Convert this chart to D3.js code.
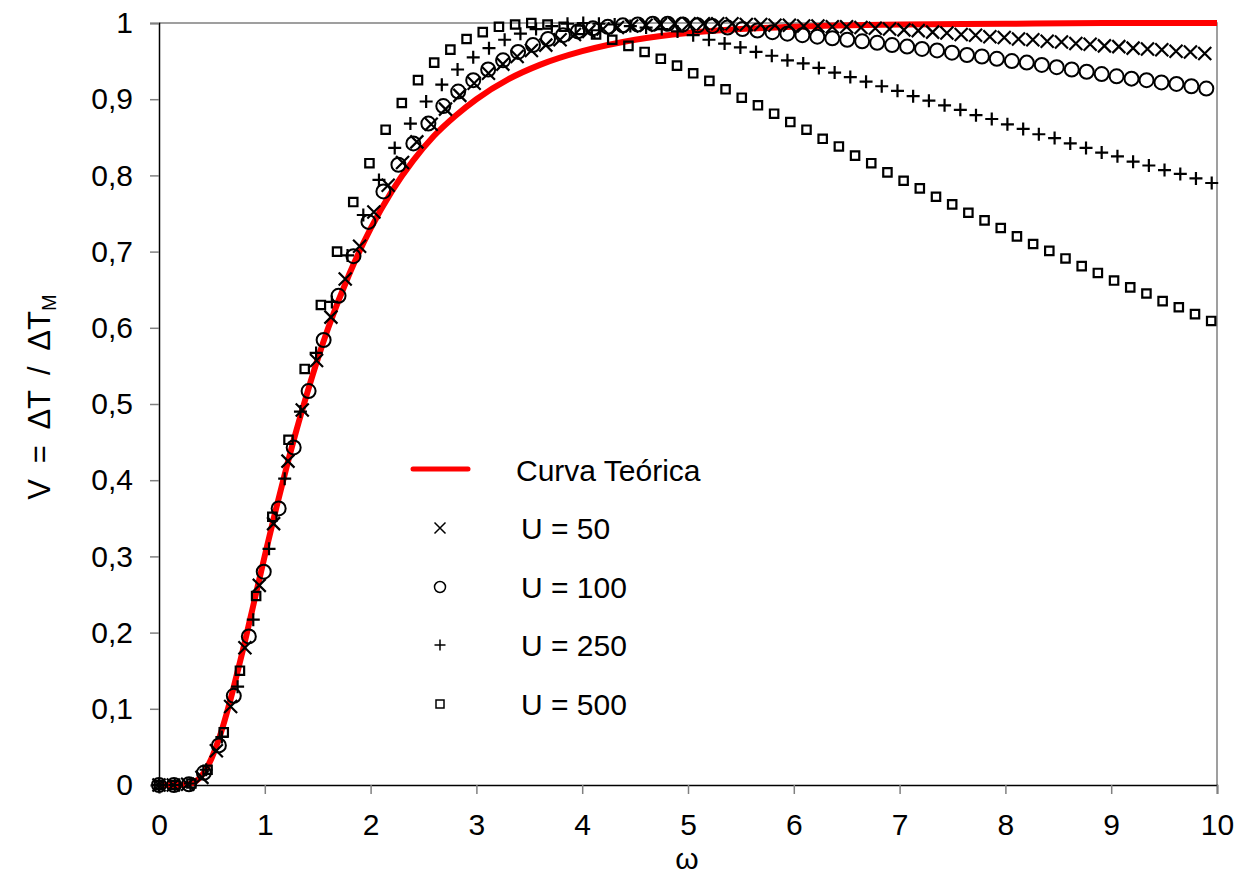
<!DOCTYPE html>
<html>
<head>
<meta charset="utf-8">
<script src="https://cdn.jsdelivr.net/npm/d3@7"></script>
<style>
  html, body { margin: 0; padding: 0; background: #fff; }
  svg { display: block; }
  text { font-family: "Liberation Sans", Arial, Helvetica, sans-serif; fill: #000; }
</style>
</head>
<body>
<svg id="chart" width="1248" height="876"></svg>
<script>
// ---------------- DATA ----------------
const xTicks = [0, 1, 2, 3, 4, 5, 6, 7, 8, 9, 10];
const yTicks = [0, 0.1, 0.2, 0.3, 0.4, 0.5, 0.6, 0.7, 0.8, 0.9, 1];
const yTickLabels = ["0", "0,1", "0,2", "0,3", "0,4", "0,5", "0,6", "0,7", "0,8", "0,9", "1"];

const xTitle = "ω";
const seriesNames = ["Curva Teórica", "U = 50", "U = 100", "U = 250", "U = 500"];

// Theoretical curve
const omegaCurve = [0, 0.2, 0.25, 0.3, 0.35, 0.4, 0.45, 0.5, 0.55, 0.6, 0.65, 0.7, 0.75, 0.8, 0.85, 0.9, 0.95, 1.0,
  1.1, 1.2, 1.3, 1.4, 1.5, 1.6, 1.8, 2.0, 2.2, 2.4, 2.6, 2.8, 3.0, 3.3, 3.6, 4.0, 4.5, 5.0, 5.5, 6.0, 7.0, 8.0, 9.0, 10.0];
const vCurve = [0, 0.00004, 0.0004, 0.0017, 0.0052, 0.0117, 0.022, 0.036, 0.054, 0.075, 0.099, 0.125, 0.153, 0.181, 0.211, 0.241, 0.271, 0.301,
  0.359, 0.414, 0.466, 0.514, 0.559, 0.600, 0.671, 0.730, 0.779, 0.819, 0.852, 0.878, 0.900, 0.926, 0.945, 0.963, 0.978, 0.987, 0.992, 0.995, 0.998, 0.999, 1.0, 1.0];

// U = 50 (x markers)
const omega50 = [0, 0.135, 0.271, 0.406, 0.542, 0.677, 0.812, 0.948, 1.083, 1.219, 1.354, 1.489, 1.625, 1.760, 1.896,
  2.031, 2.166, 2.302, 2.437, 2.573, 2.708, 2.843, 2.979, 3.114, 3.250, 3.385, 3.520, 3.656, 3.791, 3.927, 4.062, 4.197,
  4.333, 4.468, 4.604, 4.739, 4.874, 5.010, 5.145, 5.281, 5.416, 5.551, 5.687, 5.822, 5.958, 6.093, 6.228, 6.364, 6.499,
  6.635, 6.770, 6.905, 7.041, 7.176, 7.312, 7.447, 7.582, 7.718, 7.853, 7.989, 8.124, 8.259, 8.395, 8.530, 8.666, 8.801,
  8.936, 9.072, 9.207, 9.343, 9.478, 9.613, 9.749, 9.884];
const v50 = [0, 0, 0.001, 0.010, 0.045, 0.103, 0.180, 0.262, 0.343, 0.425, 0.492, 0.557, 0.614, 0.664, 0.707,
  0.752, 0.787, 0.817, 0.844, 0.867, 0.887, 0.905, 0.921, 0.934, 0.946, 0.956, 0.964, 0.971, 0.978, 0.985, 0.989, 0.992,
  0.994, 0.996, 0.997, 0.998, 0.999, 0.999, 0.999, 0.999, 0.999, 0.998, 0.998, 0.997, 0.997, 0.996, 0.996, 0.995, 0.995,
  0.994, 0.993, 0.992, 0.991, 0.990, 0.988, 0.987, 0.985, 0.984, 0.982, 0.981, 0.979, 0.978, 0.976, 0.975, 0.973, 0.972,
  0.970, 0.969, 0.967, 0.966, 0.965, 0.963, 0.962, 0.960];

// U = 100 (circles)
const omega100 = [0, 0.141, 0.283, 0.424, 0.566, 0.707, 0.849, 0.990, 1.131, 1.273, 1.414, 1.556, 1.697, 1.838, 1.980,
  2.121, 2.263, 2.404, 2.546, 2.687, 2.828, 2.970, 3.111, 3.252, 3.394, 3.535, 3.677, 3.818, 3.959, 4.101, 4.242, 4.384,
  4.525, 4.667, 4.808, 4.949, 5.091, 5.232, 5.374, 5.515, 5.656, 5.798, 5.939, 6.081, 6.222, 6.364, 6.505, 6.646, 6.788,
  6.929, 7.071, 7.212, 7.354, 7.495, 7.637, 7.778, 7.919, 8.061, 8.202, 8.344, 8.485, 8.627, 8.768, 8.910, 9.051, 9.192,
  9.334, 9.475, 9.617, 9.758, 9.899];
const v100 = [0, 0, 0.001, 0.016, 0.052, 0.117, 0.195, 0.280, 0.363, 0.443, 0.517, 0.584, 0.642, 0.694, 0.739,
  0.779, 0.814, 0.842, 0.868, 0.891, 0.910, 0.925, 0.939, 0.951, 0.962, 0.971, 0.979, 0.984, 0.989, 0.993, 0.995, 0.997,
  0.998, 0.999, 0.999, 0.998, 0.997, 0.996, 0.994, 0.992, 0.990, 0.988, 0.986, 0.984, 0.982, 0.980, 0.978, 0.976, 0.974,
  0.971, 0.969, 0.966, 0.964, 0.961, 0.958, 0.956, 0.953, 0.950, 0.948, 0.945, 0.942, 0.939, 0.936, 0.933, 0.930, 0.927,
  0.925, 0.922, 0.920, 0.917, 0.914];

// U = 250 (plus markers)
const omega250 = [0, 0.149, 0.297, 0.446, 0.594, 0.743, 0.891, 1.040, 1.188, 1.337, 1.485, 1.634, 1.782, 1.931,
  2.079, 2.228, 2.376, 2.525, 2.673, 2.822, 2.970, 3.119, 3.267, 3.416, 3.564, 3.713, 3.861, 4.010, 4.158, 4.307, 4.455,
  4.604, 4.752, 4.901, 5.049, 5.198, 5.346, 5.495, 5.643, 5.792, 5.940, 6.089, 6.237, 6.386, 6.534, 6.683, 6.831, 6.980,
  7.128, 7.277, 7.425, 7.574, 7.722, 7.871, 8.019, 8.168, 8.316, 8.465, 8.613, 8.762, 8.910, 9.059, 9.207, 9.356, 9.504,
  9.653, 9.801, 9.950];
const v250 = [0, 0, 0.002, 0.020, 0.063, 0.129, 0.217, 0.310, 0.402, 0.490, 0.567, 0.634, 0.695, 0.748,
  0.794, 0.836, 0.868, 0.897, 0.919, 0.939, 0.955, 0.967, 0.978, 0.986, 0.992, 0.996, 0.999, 1.000, 0.999, 0.998, 0.996,
  0.994, 0.992, 0.989, 0.984, 0.978, 0.973, 0.968, 0.962, 0.957, 0.951, 0.947, 0.941, 0.935, 0.929, 0.923, 0.917, 0.911,
  0.904, 0.898, 0.892, 0.886, 0.879, 0.874, 0.867, 0.861, 0.854, 0.849, 0.842, 0.836, 0.830, 0.825, 0.818, 0.813, 0.807,
  0.802, 0.796, 0.790];

// U = 500 (square markers)
const omega500 = [0, 0.153, 0.306, 0.459, 0.612, 0.765, 0.918, 1.071, 1.224, 1.377, 1.530, 1.683, 1.836, 1.989,
  2.142, 2.295, 2.448, 2.601, 2.754, 2.907, 3.060, 3.213, 3.366, 3.519, 3.672, 3.825, 3.978, 4.131, 4.284, 4.437, 4.590,
  4.743, 4.896, 5.049, 5.202, 5.355, 5.508, 5.661, 5.814, 5.967, 6.120, 6.273, 6.426, 6.579, 6.732, 6.885, 7.038, 7.191,
  7.344, 7.497, 7.650, 7.803, 7.956, 8.109, 8.262, 8.415, 8.568, 8.721, 8.874, 9.027, 9.180, 9.333, 9.486, 9.639, 9.792,
  9.945];
const v500 = [0, 0, 0.002, 0.020, 0.069, 0.150, 0.248, 0.352, 0.453, 0.546, 0.630, 0.700, 0.765, 0.816,
  0.860, 0.895, 0.925, 0.948, 0.965, 0.979, 0.988, 0.995, 0.998, 1.000, 0.998, 0.995, 0.991, 0.985, 0.978, 0.970, 0.962,
  0.953, 0.944, 0.934, 0.924, 0.913, 0.902, 0.892, 0.881, 0.870, 0.860, 0.848, 0.838, 0.826, 0.816, 0.804, 0.793, 0.783,
  0.772, 0.762, 0.751, 0.741, 0.731, 0.720, 0.710, 0.701, 0.691, 0.681, 0.672, 0.662, 0.653, 0.645, 0.635, 0.627, 0.618,
  0.609];

// ---------------- DRAWING ----------------
const svg = d3.select("#chart");
const plot = { left: 159, right: 1217, top: 23, bottom: 785 };

const x = d3.scaleLinear().domain([0, 10]).range([plot.left, plot.right]);
const y = d3.scaleLinear().domain([0, 1]).range([plot.bottom, plot.top]);

const FONT = 30;

// plot area border (top & right grey)
svg.append("path")
  .attr("d", `M${plot.left},${plot.top}H${plot.right}V${plot.bottom}`)
  .attr("fill", "none").attr("stroke", "#808080").attr("stroke-width", 1.5);

// Y axis
const yAxis = d3.axisLeft(y).tickValues(yTicks).tickSize(9).tickPadding(17)
  .tickFormat((d, i) => yTickLabels[i]);
const gy = svg.append("g").attr("transform", `translate(${plot.left},0)`).call(yAxis);
gy.select(".domain").attr("stroke", "#000").attr("stroke-width", 1.5);
gy.selectAll(".tick line").attr("stroke", "#808080").attr("stroke-width", 1.5);
gy.selectAll(".tick text").attr("font-size", FONT).attr("font-family", "Liberation Sans, Arial, sans-serif").attr("fill", "#000");

// X axis
const xAxis = d3.axisBottom(x).tickValues(xTicks).tickSize(9).tickPadding(20).tickFormat(d3.format("d"));
const gx = svg.append("g").attr("transform", `translate(0,${plot.bottom})`).call(xAxis);
gx.select(".domain").attr("stroke", "#000").attr("stroke-width", 1.5);
gx.selectAll(".tick line").attr("stroke", "#808080").attr("stroke-width", 1.5);
gx.selectAll(".tick text").attr("font-size", FONT).attr("font-family", "Liberation Sans, Arial, sans-serif").attr("fill", "#000");

// Axis titles
svg.append("text")
  .attr("x", x(5) - 1).attr("y", 869)
  .attr("text-anchor", "middle").attr("font-size", FONT)
  .attr("font-family", "Liberation Serif, serif")
  .text(xTitle);

const yTitle = svg.append("text")
  .attr("transform", `translate(50,397) rotate(-90)`)
  .attr("text-anchor", "middle").attr("font-size", 31)
  .attr("word-spacing", 7);
yTitle.append("tspan").text("V = ΔT / ΔT");
yTitle.append("tspan").attr("font-size", 20).attr("dy", 6).text("M");

// Theoretical curve
const line = d3.line().x(d => x(d[0])).y(d => y(d[1])).curve(d3.curveMonotoneX);
svg.append("path")
  .datum(d3.zip(omegaCurve, vCurve))
  .attr("d", line)
  .attr("fill", "none").attr("stroke", "#ff0000").attr("stroke-width", 6)
  .attr("stroke-linejoin", "round");

// marker shapes
function markerPath(type, s) {
  if (type === "x") return `M${-s},${-s}L${s},${s}M${-s},${s}L${s},${-s}`;
  if (type === "plus") return `M${-s},0H${s}M0,${-s}V${s}`;
  if (type === "square") return `M${-s},${-s}H${s}V${s}H${-s}Z`;
  return null;
}

function drawSeries(xs, vs, type, cls) {
  const data = d3.zip(xs, vs);
  const g = svg.append("g").attr("class", cls);
  if (type === "circle") {
    g.selectAll("circle").data(data).join("circle")
      .attr("cx", d => x(d[0])).attr("cy", d => y(d[1])).attr("r", 7)
      .attr("fill", "none").attr("stroke", "#000").attr("stroke-width", 2);
  } else {
    const size = type === "square" ? 4.2 : 6.5;
    g.selectAll("path").data(data).join("path")
      .attr("transform", d => `translate(${x(d[0])},${y(d[1])})`)
      .attr("d", markerPath(type, size))
      .attr("fill", "none").attr("stroke", "#000").attr("stroke-width", 2.2);
  }
}

drawSeries(omega50, v50, "x", "u50");
drawSeries(omega100, v100, "circle", "u100");
drawSeries(omega250, v250, "plus", "u250");
drawSeries(omega500, v500, "square", "u500");

// Legend
const legend = svg.append("g");
legend.append("line")
  .attr("x1", 413).attr("x2", 468).attr("y1", 469).attr("y2", 469)
  .attr("stroke", "#ff0000").attr("stroke-width", 5).attr("stroke-linecap", "round");
legend.append("text").attr("x", 516).attr("y", 481).attr("font-size", FONT).text(seriesNames[0]);

const legendTypes = ["x", "circle", "plus", "square"];
const legendY = [528, 587, 645, 704];
legendTypes.forEach((t, i) => {
  const cy = legendY[i];
  if (t === "circle") {
    legend.append("circle").attr("cx", 440).attr("cy", cy).attr("r", 5.5)
      .attr("fill", "none").attr("stroke", "#000").attr("stroke-width", 1.5);
  } else {
    legend.append("path").attr("transform", `translate(440,${cy})`)
      .attr("d", markerPath(t, t === "square" ? 4 : 5.5))
      .attr("fill", "none").attr("stroke", "#000").attr("stroke-width", 1.5);
  }
  legend.append("text").attr("x", 521).attr("y", cy + 11).attr("font-size", FONT).text(seriesNames[i + 1]);
});
</script>
</body>
</html>
